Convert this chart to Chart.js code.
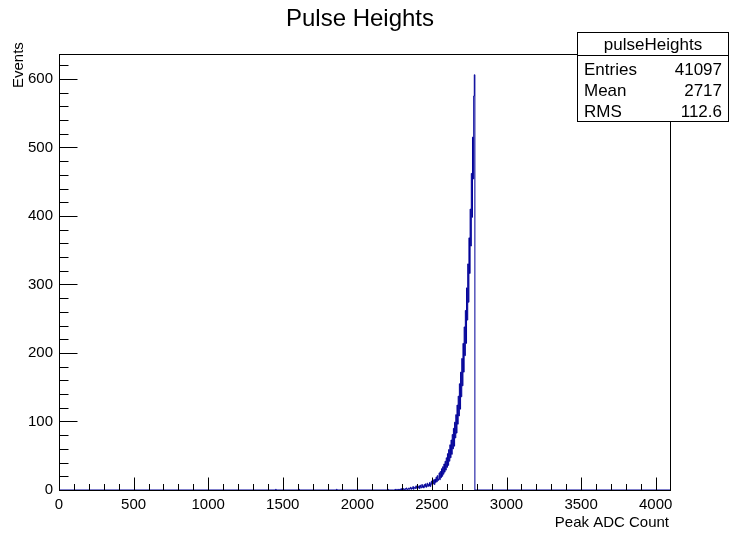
<!DOCTYPE html>
<html>
<head>
<meta charset="utf-8">
<title>Pulse Heights</title>
<script src="https://cdn.jsdelivr.net/npm/chart.js@4.4.1/dist/chart.umd.min.js"></script>
<style>
  html, body { margin: 0; padding: 0; background: #fff; }
</style>
</head>
<body>
<canvas id="pulse-chart" width="730" height="534"></canvas>
<script>
// histogram binning (ADC counts)
var binWidth = 4;
var mainStart = 2244;
var adcMax = 4096;

// events per bin, from mainStart upward
var counts = [
  0, 0, 1, 0, 0, 1, 0, 0, 1, 0,
  1, 0, 2, 0, 1, 0, 2, 1, 0, 2,
  1, 3, 1, 0, 2, 3, 1, 2, 4, 1,
  3, 2, 5, 1, 3, 4, 2, 6, 3, 2,
  5, 3, 6, 2, 7, 4, 3, 8, 4, 6,
  3, 8, 5, 9, 4, 7, 10, 5, 8, 6,
  11, 5, 9, 13, 7, 14, 9, 15, 8, 16,
  11, 19, 12, 21, 14, 16, 25, 15, 27, 18,
  31, 20, 34, 23, 38, 26, 42, 29, 47, 33,
  53, 36, 59, 42, 66, 47, 73, 52, 81, 60,
  90, 64, 99, 76, 110, 83, 124, 96, 137, 108,
  155, 118, 172, 136, 192, 152, 214, 172, 238, 196,
  262, 214, 295, 248, 330, 274, 368, 316, 410, 356,
  462, 398, 515, 454, 575, 606
];

// a few lonely entries further down
var strayBins = [1452, 1608, 1860, 2204];
var strayCounts = [1, 1, 1, 1];

var xTicks = [0, 500, 1000, 1500, 2000, 2500, 3000, 3500, 4000];
var yTicks = [0, 100, 200, 300, 400, 500, 600];

var statNames = ['Entries', 'Mean', 'RMS'];
var statValues = ['41097', '2717', '112.6'];

var yMax = Math.max.apply(null, counts) * 1.05;

// step points at bin low edges
var points = [{ x: 0, y: 0 }];
for (var s = 0; s < strayBins.length; s++) {
  points.push({ x: strayBins[s], y: strayCounts[s] });
  points.push({ x: strayBins[s] + binWidth, y: 0 });
}
for (var i = 0; i < counts.length; i++) {
  points.push({ x: mainStart + i * binWidth, y: counts[i] });
}
points.push({ x: mainStart + counts.length * binWidth, y: 0 });
points.push({ x: adcMax, y: 0 });

var FONT = 'Liberation Sans, Arial, Helvetica, sans-serif';

var rootFrame = {
  id: 'rootFrame',
  afterDraw: function(chart) {
    var ctx = chart.ctx;
    var a = chart.chartArea;
    var xs = chart.scales.x, ys = chart.scales.y;
    var L = Math.round(a.left) + 0.5, R = Math.round(a.right) + 0.5;
    var T = Math.round(a.top) + 0.5, B = Math.round(a.bottom) + 0.5;
    ctx.save();
    ctx.strokeStyle = '#000';
    ctx.lineWidth = 1;
    ctx.strokeRect(L, T, R - L, B - T);

    // ticks point into the frame
    ctx.beginPath();
    for (var v = 0; v <= adcMax; v += 100) {
      var px = Math.round(xs.getPixelForValue(v)) + 0.5;
      var len = v % 500 === 0 ? 13 : 6.5;
      ctx.moveTo(px, B);
      ctx.lineTo(px, B - len);
    }
    for (var w = 0; w <= yMax; w += 20) {
      var py = Math.round(ys.getPixelForValue(w)) + 0.5;
      var l2 = w % 100 === 0 ? 18 : 9;
      ctx.moveTo(L, py);
      ctx.lineTo(L + l2, py);
    }
    ctx.stroke();

    ctx.fillStyle = '#000';
    // title
    ctx.font = '24px ' + FONT;
    ctx.textAlign = 'center';
    ctx.textBaseline = 'alphabetic';
    ctx.fillText('Pulse Heights', 360, 26);

    // axis titles
    ctx.font = '15px ' + FONT;
    ctx.textAlign = 'right';
    ctx.fillText('Peak ADC Count', 669, 527);
    ctx.save();
    ctx.translate(23, 88);
    ctx.rotate(-Math.PI / 2);
    ctx.textAlign = 'left';
    ctx.fillText('Events', 0, 0);
    ctx.restore();

    // stats box
    ctx.fillStyle = '#fff';
    ctx.fillRect(577.5, 32.5, 151, 89);
    ctx.strokeRect(577.5, 32.5, 151, 89);
    ctx.beginPath();
    ctx.moveTo(577.5, 55.5);
    ctx.lineTo(728.5, 55.5);
    ctx.stroke();
    ctx.fillStyle = '#000';
    ctx.font = '17px ' + FONT;
    ctx.textBaseline = 'middle';
    ctx.textAlign = 'center';
    ctx.fillText('pulseHeights', 653, 45);
    for (var k = 0; k < statNames.length; k++) {
      var ty = 70 + k * 21;
      ctx.textAlign = 'left';
      ctx.fillText(statNames[k], 584, ty);
      ctx.textAlign = 'right';
      ctx.fillText(statValues[k], 722, ty);
    }
    ctx.restore();
  }
};

new Chart(document.getElementById('pulse-chart'), {
  type: 'line',
  data: {
    datasets: [{
      data: points,
      stepped: 'before',
      borderColor: '#000099',
      borderWidth: 1,
      pointRadius: 0,
      fill: false,
      tension: 0
    }]
  },
  options: {
    responsive: false,
    animation: false,
    devicePixelRatio: 1,
    layout: { padding: { top: 54, right: 60, bottom: 0, left: 0 } },
    plugins: {
      legend: { display: false },
      title: { display: false },
      tooltip: { enabled: false }
    },
    scales: {
      x: {
        type: 'linear',
        min: 0,
        max: adcMax,
        afterBuildTicks: function(scale) {
          scale.ticks = xTicks.map(function(v) { return { value: v }; });
        },
        afterFit: function(scale) {
          scale.height = 44;
          scale.paddingLeft = 0;
          scale.paddingRight = 0;
        },
        ticks: {
          font: { family: FONT, size: 15 }, color: '#000', padding: 6,
          maxRotation: 0, autoSkip: false,
          callback: function(v) { return String(v); }
        },
        grid: { display: false, drawTicks: false },
        border: { display: false }
      },
      y: {
        min: 0,
        max: yMax,
        afterBuildTicks: function(scale) {
          scale.ticks = yTicks.map(function(v) { return { value: v }; });
        },
        afterFit: function(scale) {
          scale.width = 59;
          scale.paddingTop = 0;
          scale.paddingBottom = 0;
        },
        ticks: {
          font: { family: FONT, size: 15 }, color: '#000', padding: 6,
          callback: function(v) { return String(v); }
        },
        grid: { display: false, drawTicks: false },
        border: { display: false }
      }
    }
  },
  plugins: [rootFrame]
});
</script>
</body>
</html>
